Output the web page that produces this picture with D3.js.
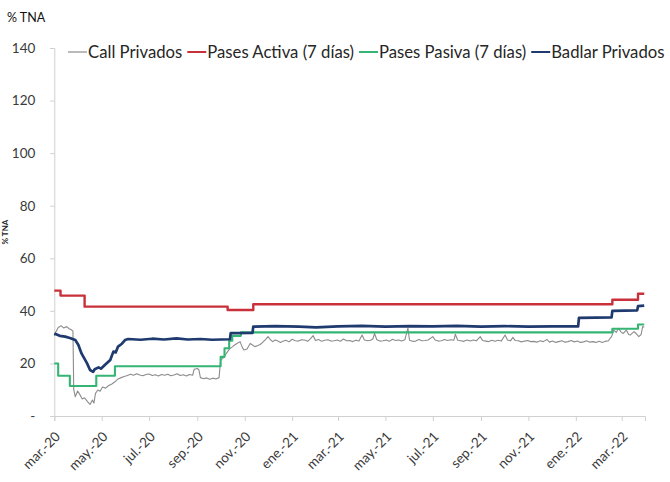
<!DOCTYPE html>
<html>
<head>
<meta charset="utf-8">
<script src="https://cdn.jsdelivr.net/npm/d3@7"></script>
<style>
  html, body { margin: 0; padding: 0; background: #fff; }
  svg { display: block; font-family: Lato, "Open Sans", sans-serif; }
</style>
</head>
<body>
<svg id="chart" width="670" height="482"></svg>
<script>
// ---------- DATA ----------
const yTicks = [0, 20, 40, 60, 80, 100, 120, 140];
const xTickDates = ["2020-03-01","2020-05-01","2020-07-01","2020-09-01","2020-11-01","2021-01-01",
  "2021-03-01","2021-05-01","2021-07-01","2021-09-01","2021-11-01","2022-01-01","2022-03-01"];
const xTickLabels = ["mar.-20","may.-20","jul.-20","sep.-20","nov.-20","ene.-21","mar.-21",
  "may.-21","jul.-21","sep.-21","nov.-21","ene.-22","mar.-22"];
const seriesNames = ["Call Privados", "Pases Activa (7 días)", "Pases Pasiva (7 días)", "Badlar Privados"];

// Call Privados (noisy)
const callPrivados = [
  ["2020-03-01",30.5],["2020-03-03",32.0],["2020-03-06",33.7],["2020-03-10",34.3],["2020-03-13",33.5],
  ["2020-03-17",34.0],["2020-03-20",33.2],["2020-03-23",32.8],["2020-03-25",32.3],["2020-03-26",10.0],
  ["2020-03-28",7.3],["2020-03-31",9.5],["2020-04-02",8.6],["2020-04-06",6.5],["2020-04-09",6.9],
  ["2020-04-13",5.4],["2020-04-16",4.4],["2020-04-19",6.1],["2020-04-21",4.9],["2020-04-23",8.6],
  ["2020-04-26",9.9],["2020-04-29",9.4],["2020-05-02",11.0],["2020-05-06",10.6],["2020-05-10",11.6],
  ["2020-05-14",12.2],["2020-05-18",13.0],["2020-05-22",14.1],["2020-05-26",14.6],["2020-05-30",15.0],
  ["2020-06-03",15.4],["2020-06-07",15.9],["2020-06-11",15.5],["2020-06-15",16.1],["2020-06-19",15.6],
  ["2020-06-23",15.3],["2020-06-27",15.8],["2020-07-01",16.0],["2020-07-05",15.4],["2020-07-09",15.7],
  ["2020-07-13",15.2],["2020-07-17",15.8],["2020-07-21",15.5],["2020-07-25",15.9],["2020-07-29",15.3],
  ["2020-08-02",15.6],["2020-08-06",16.1],["2020-08-10",15.4],["2020-08-14",15.7],["2020-08-18",15.2],
  ["2020-08-22",15.8],["2020-08-26",15.5],["2020-08-28",17.8],["2020-09-01",18.1],["2020-09-03",17.6],
  ["2020-09-05",14.6],["2020-09-09",14.2],["2020-09-13",14.5],["2020-09-17",14.0],["2020-09-21",14.4],
  ["2020-09-25",14.1],["2020-09-29",14.6],["2020-10-01",21.3],["2020-10-04",22.0],["2020-10-07",23.2],
  ["2020-10-10",24.5],["2020-10-13",25.7],["2020-10-16",26.3],["2020-10-19",27.0],["2020-10-22",27.6],
  ["2020-10-26",28.3],["2020-10-29",26.0],["2020-10-31",25.1],["2020-11-04",25.5],["2020-11-08",27.6],
  ["2020-11-11",27.0],["2020-11-14",26.4],["2020-11-18",26.8],["2020-11-21",27.2],["2020-11-24",28.0],
  ["2020-11-27",28.9],["2020-12-01",30.2],["2020-12-04",29.0],["2020-12-07",28.3],["2020-12-10",28.9],
  ["2020-12-13",28.6],["2020-12-17",28.0],["2020-12-20",28.4],["2020-12-24",28.8],["2020-12-28",28.2],
  ["2021-01-01",29.2],["2021-01-05",28.6],["2021-01-09",28.5],["2021-01-13",29.0],["2021-01-17",28.9],
  ["2021-01-21",28.4],["2021-01-25",29.5],["2021-01-28",30.6],["2021-01-31",28.7],["2021-02-04",29.1],
  ["2021-02-08",28.4],["2021-02-12",28.8],["2021-02-16",29.0],["2021-02-20",28.5],["2021-02-24",28.6],
  ["2021-02-28",28.9],["2021-03-04",28.4],["2021-03-08",29.3],["2021-03-12",28.6],["2021-03-16",28.7],
  ["2021-03-20",28.3],["2021-03-24",28.8],["2021-03-28",28.5],["2021-04-01",30.8],["2021-04-04",28.9],
  ["2021-04-08",28.6],["2021-04-12",28.8],["2021-04-15",29.4],["2021-04-17",31.4],["2021-04-20",29.0],
  ["2021-04-24",28.5],["2021-04-28",28.6],["2021-05-02",28.9],["2021-05-06",28.4],["2021-05-10",29.2],
  ["2021-05-14",28.7],["2021-05-18",28.9],["2021-05-22",28.5],["2021-05-26",29.0],["2021-05-30",33.4],
  ["2021-06-01",28.8],["2021-06-05",28.4],["2021-06-09",28.5],["2021-06-13",29.1],["2021-06-17",28.6],
  ["2021-06-21",28.7],["2021-06-25",28.9],["2021-07-01",30.2],["2021-07-04",28.9],["2021-07-08",28.5],
  ["2021-07-12",28.6],["2021-07-16",29.1],["2021-07-20",28.7],["2021-07-24",29.0],["2021-07-28",28.8],
  ["2021-07-30",31.1],["2021-08-02",28.8],["2021-08-06",28.6],["2021-08-10",28.4],["2021-08-14",28.9],
  ["2021-08-18",28.5],["2021-08-22",28.9],["2021-08-26",28.6],["2021-08-31",30.2],["2021-09-03",28.7],
  ["2021-09-07",28.5],["2021-09-11",28.3],["2021-09-15",28.8],["2021-09-19",28.4],["2021-09-23",28.8],
  ["2021-09-27",28.5],["2021-10-02",30.8],["2021-10-05",28.9],["2021-10-09",28.6],["2021-10-12",29.9],
  ["2021-10-15",28.7],["2021-10-19",28.6],["2021-10-23",28.2],["2021-10-27",28.5],["2021-10-31",28.7],
  ["2021-11-04",28.3],["2021-11-08",28.4],["2021-11-12",28.1],["2021-11-16",28.6],["2021-11-20",28.3],
  ["2021-11-25",29.1],["2021-11-28",28.1],["2021-12-02",28.5],["2021-12-06",28.0],["2021-12-10",28.3],
  ["2021-12-14",28.6],["2021-12-18",28.1],["2021-12-22",28.3],["2021-12-26",28.7],["2021-12-30",28.2],
  ["2022-01-03",28.5],["2022-01-07",28.0],["2022-01-11",28.2],["2022-01-15",28.6],["2022-01-19",28.1],
  ["2022-01-23",28.3],["2022-01-27",28.0],["2022-01-31",28.4],["2022-02-04",28.0],["2022-02-08",28.4],
  ["2022-02-12",28.6],["2022-02-14",29.5],["2022-02-16",30.2],["2022-02-19",32.7],["2022-02-22",31.8],
  ["2022-02-25",33.4],["2022-02-28",32.0],["2022-03-03",31.4],["2022-03-07",32.7],["2022-03-10",31.0],
  ["2022-03-12",30.8],["2022-03-15",31.6],["2022-03-17",32.1],["2022-03-20",31.2],["2022-03-23",30.2],
  ["2022-03-26",31.0],["2022-03-28",34.0],["2022-03-30",33.8]
];

// Pases Activa (7 días) - step series [change date, value]
const pasesActiva = [
  ["2020-03-01",47.7],["2020-03-09",45.8],["2020-04-09",41.6],["2020-10-10",40.3],
  ["2020-11-12",42.5],["2022-02-17",44.2],["2022-03-22",46.5],["2022-03-30",46.5]
];

// Pases Pasiva (7 días) - step series
const pasesPasiva = [
  ["2020-03-01",20.0],["2020-03-06",15.3],["2020-03-21",11.4],["2020-04-24",15.3],
  ["2020-05-18",18.9],["2020-10-01",22.5],["2020-10-06",25.8],["2020-10-12",28.6],
  ["2020-10-16",30.5],["2020-10-27",31.8],["2022-02-17",33.2],["2022-03-22",34.8],["2022-03-30",34.8]
];

// Badlar Privados
const badlarPrivados = [
  ["2020-03-01",31.4],["2020-03-08",30.5],["2020-03-15",30.2],["2020-03-21",29.7],["2020-03-28",28.9],
  ["2020-04-01",27.0],["2020-04-05",23.8],["2020-04-12",20.1],["2020-04-16",17.5],["2020-04-20",16.8],
  ["2020-04-22",17.8],["2020-04-27",18.5],["2020-04-30",18.0],["2020-05-05",19.4],["2020-05-12",21.3],
  ["2020-05-16",24.5],["2020-05-19",24.2],["2020-05-22",26.4],["2020-05-27",27.5],["2020-05-31",28.9],
  ["2020-06-04",29.3],["2020-06-20",29.0],["2020-07-05",29.4],["2020-07-20",29.1],["2020-08-05",29.5],
  ["2020-08-20",29.1],["2020-09-05",29.3],["2020-09-20",29.0],["2020-10-13",29.2],["2020-10-14",31.5],
  ["2020-11-11",31.6],["2020-11-12",34.0],["2020-12-10",34.2],["2021-01-10",34.0],["2021-02-01",33.7],
  ["2021-03-01",34.1],["2021-04-01",34.3],["2021-05-01",34.0],["2021-06-01",34.2],["2021-07-01",34.1],
  ["2021-08-01",34.3],["2021-09-01",34.0],["2021-10-01",34.2],["2021-11-01",34.0],["2021-12-01",34.1],
  ["2022-01-04",34.1],["2022-01-05",37.3],["2022-02-16",37.5],["2022-02-17",40.0],["2022-03-21",40.2],
  ["2022-03-22",41.8],["2022-03-30",42.0]
];

// ---------- CHART ----------
const parse = d3.timeParse("%Y-%m-%d");
const svg = d3.select("#chart");
const pLeft = 54.3, pRight = 645, pTop = 48, pBottom = 416;

const x = d3.scaleTime().domain([parse("2020-03-01"), parse("2022-03-31")]).range([pLeft, pRight]);
const y = d3.scaleLinear().domain([0, 140]).range([pBottom, pTop]);

const axisColor = "#d0d0d0";
const textColor = "#3a3a3a";

// Y axis
const yAxis = svg.append("g").attr("transform", `translate(${pLeft},0)`)
  .call(d3.axisLeft(y).tickValues(yTicks).tickSize(4).tickPadding(15)
    .tickFormat(d => d === 0 ? "-" : d));
yAxis.select(".domain").attr("stroke", axisColor);
yAxis.selectAll(".tick line").attr("stroke", axisColor);
yAxis.selectAll(".tick text").attr("fill", textColor).style("font-size", "13.5px")
  .style("font-family", "Lato, sans-serif");

// X axis
const xAxis = svg.append("g").attr("transform", `translate(0,${pBottom})`)
  .call(d3.axisBottom(x).tickValues(xTickDates.map(parse)).tickSize(5)
    .tickFormat((d, i) => xTickLabels[i]));
xAxis.select(".domain").attr("stroke", axisColor);
xAxis.selectAll(".tick line").attr("stroke", axisColor);
xAxis.selectAll(".tick text")
  .attr("fill", textColor).style("font-size", "13.5px").style("font-family", "Lato, sans-serif")
  .attr("text-anchor", "end")
  .attr("x", 0).attr("y", 0).attr("dy", "0.35em")
  .attr("transform", "translate(3,18) rotate(-45)");

// Lines
const mk = arr => arr.map(d => ({date: parse(d[0]), v: d[1]}));
const lineLin = d3.line().x(d => x(d.date)).y(d => y(d.v));
const lineStep = d3.line().x(d => x(d.date)).y(d => y(d.v)).curve(d3.curveStepAfter);

const series = [
  {data: mk(callPrivados), color: "#8c8c8c", width: 1.1, gen: lineLin},
  {data: mk(pasesActiva), color: "#c8313a", width: 2.4, gen: lineStep},
  {data: mk(pasesPasiva), color: "#35b574", width: 2.1, gen: lineStep},
  {data: mk(badlarPrivados), color: "#1f3a6f", width: 2.7, gen: lineLin}
];
series.forEach(s => {
  svg.append("path").attr("d", s.gen(s.data))
    .attr("fill", "none").attr("stroke", s.color)
    .attr("stroke-width", s.width).attr("stroke-linejoin", "round");
});

// Legend (fit between x=68 and x=665)
const legY = 52, legStart = 68, legEnd = 665, lineLen = 19, lineGap = 1, itemGap = 5;
const measure = svg.append("text").style("font-size", "16px");
let textTotal = 0;
seriesNames.forEach(n => { measure.text(n); textTotal += measure.node().getComputedTextLength(); });
measure.remove();
const fixed = seriesNames.length * (lineLen + lineGap) + (seriesNames.length - 1) * itemGap;
const legFont = 16 * (legEnd - legStart - fixed) / textTotal;
let cx = legStart;
const leg = svg.append("g");
seriesNames.forEach((n, i) => {
  leg.append("line").attr("x1", cx).attr("x2", cx + lineLen).attr("y1", legY).attr("y2", legY)
    .attr("stroke", series[i].color).attr("stroke-width", i === 0 ? 1.2 : 2);
  const t = leg.append("text").attr("x", cx + lineLen + lineGap).attr("y", legY).attr("dy", "0.35em")
    .attr("fill", "#262626").style("font-size", legFont + "px").text(n);
  cx += lineLen + lineGap + t.node().getComputedTextLength() + itemGap;
});

// Titles
svg.append("text").attr("x", 7).attr("y", 22).attr("fill", "#111")
  .style("font-size", "12.5px").text("% TNA");
svg.append("text").attr("transform", `translate(8,${(pTop + pBottom) / 2}) rotate(-90)`)
  .attr("text-anchor", "middle").attr("fill", "#222").style("font-size", "8px")
  .style("font-weight", "bold").text("% TNA");
</script>
</body>
</html>
